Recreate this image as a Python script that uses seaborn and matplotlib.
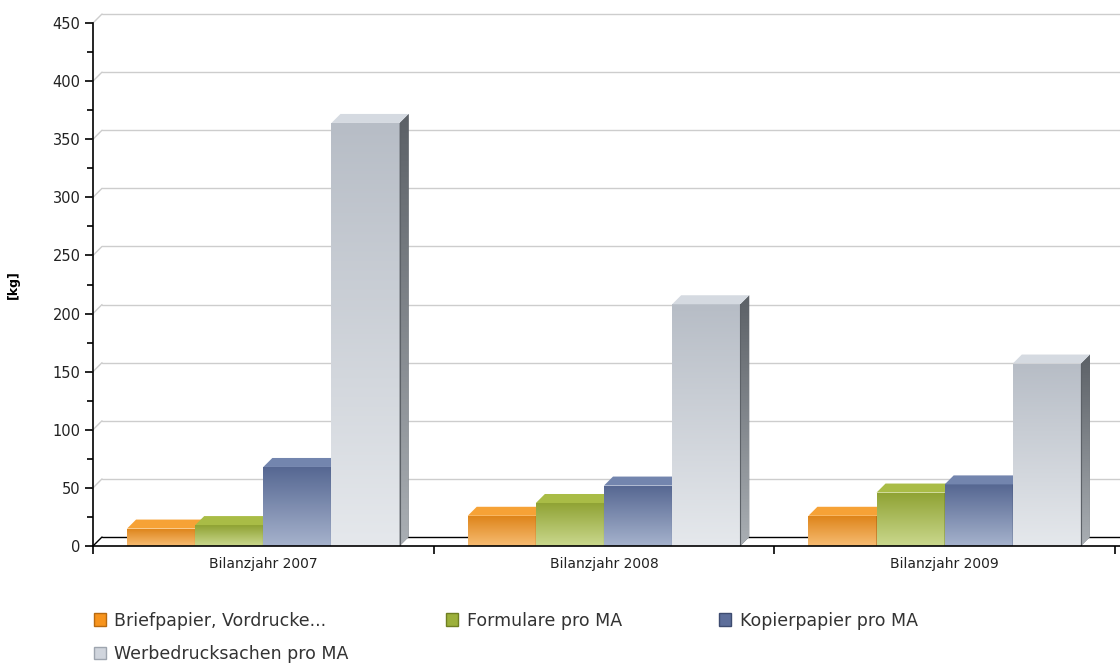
import matplotlib.pyplot as plt
import matplotlib.colors as mcolors
from matplotlib.patches import Polygon, Patch
import numpy as np
import pandas as pd
import seaborn as sns

# ---- data ----
years = ['Bilanzjahr 2007', 'Bilanzjahr 2008', 'Bilanzjahr 2009']
series = ['Briefpapier, Vordrucke...', 'Formulare pro MA',
          'Kopierpapier pro MA', 'Werbedrucksachen pro MA']
briefpapier = [15, 26, 26]
formulare = [18, 37, 46]
kopierpapier = [68, 52, 53]
werbedrucksachen = [364, 208, 157]

# ---- colours ----
legend_colors = ['#F7941D', '#9CB03B', '#5D6E9A', '#D0D5DD']
legend_edges = ['#B86A10', '#6F7F22', '#3E4C70', '#9EA5AF']
front_top = ['#DD8318', '#8FA233', '#566792', '#B7BDC6']
front_bottom = ['#F7BC72', '#CAD88D', '#A5B2CC', '#E5E8EC']
top_face = ['#F6A236', '#A9BC46', '#7385AE', '#D5DAE1']
side_top = ['#A86010', '#66751F', '#3D4B6E', '#5C6167']
side_bottom = ['#D08C40', '#98A858', '#7C89A6', '#A9AEB3']

df = pd.DataFrame({
    'Jahr': years * 4,
    'kg': briefpapier + formulare + kopierpapier + werbedrucksachen,
    'Serie': [s for s in series for _ in years],
})

sns.set_style('white')
plt.rcParams['font.family'] = ['DejaVu Sans']

W, H = 1120, 669
fig = plt.figure(figsize=(W / 100, H / 100), dpi=100)
ax = fig.add_axes([93 / W, 123 / H, 1022 / W, 523 / H])

sns.barplot(data=df, x='Jahr', y='kg', hue='Serie', palette=legend_colors,
            width=0.8, saturation=1, errorbar=None, legend=False,
            linewidth=0, ax=ax)

ax.set_xlim(-0.5, 2.5)
ax.set_ylim(0, 450)

# depth of the pseudo 3D effect (9 px) in data units
depth_px = 9
dx = depth_px * 3 / 1022
dy = depth_px * 450 / 523

# back-plane gridlines with diagonal connectors
for v in range(0, 451, 50):
    col = 'black' if v == 0 else '#CDCDCD'
    ax.plot([-0.5, -0.5 + dx], [v, v + dy], color=col, lw=1, zorder=1, clip_on=False)
    ax.plot([-0.5 + dx, 2.5 + 2 * dx], [v + dy, v + dy], color=col, lw=1,
            zorder=1, clip_on=False)

def grad(c1, c2, n=64):
    a = np.array(mcolors.to_rgb(c1))
    b = np.array(mcolors.to_rgb(c2))
    t = np.linspace(0, 1, n)[:, None]
    return (a * (1 - t) + b * t)[:, None, :]

# pseudo 3D: gradients + side + top faces derived from each seaborn bar
bars = sorted(ax.patches, key=lambda p: p.get_x())
for i, p in enumerate(bars):
    k = i % 4
    x0, w, h = p.get_x(), p.get_width(), p.get_height()
    x1 = x0 + w
    z = 2 + i * 0.1
    p.set_zorder(z)
    im = ax.imshow(grad(front_top[k], front_bottom[k]), extent=(x0, x1, 0, h),
                   aspect='auto', origin='upper', zorder=z + 0.01, interpolation='bilinear')
    im.set_clip_path(p)
    side = Polygon([(x1, 0), (x1 + dx, dy), (x1 + dx, h + dy), (x1, h)],
                   closed=True, facecolor=side_top[k], edgecolor='none', zorder=z + 0.02)
    ax.add_patch(side)
    ims = ax.imshow(grad(side_top[k], side_bottom[k]), extent=(x1, x1 + dx, 0, h + dy),
                    aspect='auto', origin='upper', zorder=z + 0.03, interpolation='bilinear')
    ims.set_clip_path(side)
    top = Polygon([(x0, h), (x1, h), (x1 + dx, h + dy), (x0 + dx, h + dy)],
                  closed=True, facecolor=top_face[k], edgecolor='none', zorder=z + 0.04)
    ax.add_patch(top)
    ax.plot([x1, x1], [0, h], color=side_top[k], lw=0.8, zorder=z + 0.05)

ax.set_xlim(-0.5, 2.5)
ax.set_ylim(0, 450)

# axes styling
for s in ['top', 'right']:
    ax.spines[s].set_visible(False)
ax.spines['left'].set_color('black')
ax.spines['bottom'].set_color('black')
ax.spines['left'].set_linewidth(1.2)
ax.spines['bottom'].set_linewidth(1.2)
ax.spines['bottom'].set_bounds(-0.5, 2.5 + 2 * dx)
ax.spines['bottom'].set_clip_on(False)
ax.spines['bottom'].set_zorder(10)

ax.set_yticks(range(0, 451, 50))
ax.set_yticks(range(25, 451, 50), minor=True)
ax.tick_params(axis='y', which='major', direction='out', length=6, width=1.2,
               labelsize=10.5, labelcolor='#222222', color='black', left=True, pad=3)
ax.tick_params(axis='y', which='minor', direction='out', length=4, width=1.2,
               color='black', left=True)

ax.set_xticks(range(3))
ax.set_xticklabels(years)
ax.set_xticks([-0.5, 0.5, 1.5, 2.5], minor=True)
ax.tick_params(axis='x', which='major', length=0, labelsize=10, labelcolor='#222222', pad=8)
ax.tick_params(axis='x', which='minor', direction='out', length=6, width=1.2,
               color='black', bottom=True)

ax.set_xlabel('')
ax.set_ylabel('[kg]', fontsize=9, fontweight='bold', color='black')
ax.yaxis.set_label_coords(-(93 - 20) / 1022, 0.5)
ax.grid(False)

# legend (column-major order to get a 3 + 1 row layout)
order = [0, 3, 1, 2]
handles = [Patch(facecolor=legend_colors[j], edgecolor=legend_edges[j], linewidth=1)
           for j in order]
labels = [series[j] for j in order]
fig.legend(handles, labels, loc='upper left', bbox_to_anchor=(78 / W, 1 - 596 / H),
           ncol=3, frameon=False, fontsize=12.5, handlelength=0.7, handleheight=0.7,
           handletextpad=0.5, columnspacing=5.6, labelspacing=0.9, labelcolor='#333333')

fig.savefig('out.png', dpi=100)
